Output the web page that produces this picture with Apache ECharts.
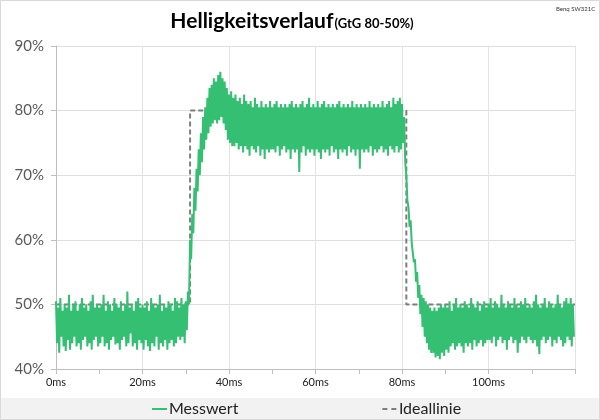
<!DOCTYPE html>
<html><head><meta charset="utf-8">
<script src="https://cdn.jsdelivr.net/npm/echarts@6/dist/echarts.min.js"></script>
<style>html,body{margin:0;padding:0;background:#fff}#c{width:600px;height:420px}</style>
</head><body><div id="c"></div>
<script>
// Messwert: upper (hi, at t) and lower (lo, at t+0.25ms) noise values, sampled every 0.5 ms (percent)
const sampleStep = 0.5;
const hi = [
50.5,49.5,51,49,50,49.5,51.5,49,50,50.5,49,50,51,49.5,50,49,50.5,51.5,49.5,50,
49.5,50,51.5,49,50.5,50,49,51,50,49.5,50.5,49,50,52,49.5,50,49,50.5,51,49.5,
50,49.5,50.5,49,51,50,49.5,50,51.5,49,50,49.5,50.5,50,49,51,50.5,49.5,51,50,
50.5,52,60,64,68,71,74,76.5,79,80.5,82,83.5,84,85,84.5,85.5,86,85,84.5,83.5,
82.5,83,82,82.5,81.5,82,81,82.5,81.5,81,81.5,80.5,82,81,80.5,81.5,80.5,81,80.5,81.5,
80.5,81,81.5,80.5,81,80.5,81,80.5,81,81.5,80.5,81,80.5,81,81.5,80.5,81,82,80.5,81,
80.5,81.5,80.5,81,81.5,80.5,81,80.5,81,80.5,81,81.5,80.5,81,80.5,81,80.5,81.5,80.5,81,
80.5,81,80.5,81,80.5,81.5,80.5,81,80.5,81,80.5,81.5,80.5,81,81.5,80.5,82,81,81.5,82,
81,79,70,65,63,59.5,57,55,53,51.5,51,50.5,50,49.5,49,49.5,49,49.5,50,49.5,
50,49.5,50.5,49,50,51,49.5,50,49.5,50.5,50,49.5,51,50,49.5,50.5,49,50,50.5,49.5,
50,51,49.5,50.5,50,49.5,51.5,50,49.5,50.5,50,49.5,51,50,49.5,50.5,50,51,49.5,50,
49.5,50.5,51.5,50,49.5,50,51,49.5,50.5,50,49.5,50,51.5,50,49.5,50.5,51,50,51,50
];
const lo = [
44,42.5,45,43.5,42.8,44.5,43,44,45,43.5,44,43,44.5,45,43.5,44,43,44.5,45,43.5,
44,45,43.5,44,43,44.5,45,43.8,44,43,44.5,45,43.5,44,45.5,43.5,44,43,44.5,44,
43,44.5,43.5,42.8,44,43.5,45,43,44,43.5,44.5,43,44,44.5,43.5,44,45,44.5,45,44,
46,50,57,61,64.5,67.5,70,72,74,75.5,76.5,77.5,78,78.5,78,78.5,79,78,77,75.5,
75,74.5,74.5,75,74,74.5,73.5,74.5,74,73,74.5,74,73.5,74.5,73,74,72.5,74,73.5,74,
74,73.5,74.5,73,74,74.5,73.5,74,72.5,74,73.5,74,70.5,73.5,74.5,73,74,73.5,74,73,
74,73.5,72.5,74,73.5,74,73,74.5,73.5,74,72.5,74,73.5,74,73,74.5,73.5,74,73,74,
71,74,73.5,74,73.5,74.5,73,74,73.5,74,74.5,73.5,74,73,74.5,74,73.5,74.5,73.5,74,
75,72,66,62,59.5,56.5,53.5,51,48.5,46.5,45,44,43,42.5,42.5,41.8,42,41.5,42.5,42,
43,42.5,43.5,44,43,43.5,44,43.5,42.5,44,43.5,44,43,44.5,43.5,44,44.5,43.5,44,44.5,
44.5,44,45,43.5,44.5,45,44,44.5,43,44.5,45,44,44.5,42.5,44,45,44.5,44,45,44.5,
44,44.5,43.5,42.3,44.5,45,44,44.5,45,43.5,44.5,44,45,44.5,43.5,44,45,44.5,43.5,45
];
// Ideallinie
const idealX = [0,31,31,81,81,120];
const idealY = [50,50,80,80,50,50];
const xTicks = ['0ms','20ms','40ms','60ms','80ms','100ms'];
const yTicks = ['40%','50%','60%','70%','80%','90%'];

const mess = [];
for (let i = 0; i < hi.length; i++) {
  mess.push([i*sampleStep, hi[i]]);
  mess.push([i*sampleStep + sampleStep/2, lo[i]]);
}
const ideal = idealX.map((x,i)=>[x, idealY[i]]);

const chart = echarts.init(document.getElementById('c'), null, {renderer:'canvas'});
chart.setOption({
  animation:false,
  backgroundColor:'#fff',
  title:{
    text:'{a|Helligkeitsverlauf}{b|(GtG 80-50%)}',
    left:287, top:6, textAlign:'center',
    textStyle:{rich:{
      a:{fontFamily:'Lato',fontWeight:'bold',fontSize:21,color:'#000'},
      b:{fontFamily:'Lato',fontWeight:'bold',fontSize:13,color:'#000',padding:[4,0,0,1]}
    }}
  },
  graphic:[
    {type:'rect',shape:{x:1,y:398,width:598,height:21},style:{fill:'#f2f2f2'},z:-10,silent:true},
    {type:'rect',shape:{x:0.5,y:0.5,width:599,height:419},style:{fill:null,stroke:'#d9d9d9',lineWidth:1},z:-9,silent:true},
    {type:'text',left:556,top:6,style:{text:'Benq SW321C',font:'6px Lato',fill:'#333'}}
  ],
  legend:{
    left:147, top:396, itemGap:144, itemWidth:15, itemHeight:2,
    textStyle:{fontFamily:'Lato',fontSize:16,color:'#222',padding:[0,0,0,-3]},
    data:[
      {name:'Messwert',icon:'path://M0,0H15V2H0Z'},
      {name:'Ideallinie',icon:'path://M0,0H5V2H0Z M9,0H14V2H9Z'}
    ]
  },
  grid:{left:56,right:25,top:46,bottom:51},
  xAxis:{
    type:'value',min:0,max:120,interval:20,
    axisLine:{lineStyle:{color:'#bfbfbf'}},
    axisTick:{show:true,length:5,lineStyle:{color:'#bfbfbf'}},
    minorTick:{show:true,splitNumber:2,length:5,lineStyle:{color:'#bfbfbf'}},
    axisLabel:{fontFamily:'Lato',fontSize:11,color:'#222',margin:8,showMaxLabel:false,
      formatter:v=>{const k=v/20; return k<xTicks.length?xTicks[k]:'';}},
    splitLine:{show:true,lineStyle:{color:'#e3e3e3'}}
  },
  yAxis:{
    type:'value',min:40,max:90,interval:10,
    axisLine:{show:true,lineStyle:{color:'#bfbfbf'}},
    axisTick:{show:true,length:5,lineStyle:{color:'#bfbfbf'}},
    axisLabel:{fontFamily:'Lato',fontSize:15,color:'#595959',margin:12,
      formatter:v=>yTicks[(v-40)/10]},
    splitLine:{lineStyle:{color:'#dedede'}}
  },
  series:[
    {name:'Ideallinie',type:'line',data:ideal,symbol:'none',z:2,
      lineStyle:{color:'#7f7f7f',width:2,type:[5,3]},itemStyle:{color:'#7f7f7f'}},
    {name:'Messwert',type:'line',data:mess,symbol:'none',z:3,
      lineStyle:{color:'#34bf72',width:2},itemStyle:{color:'#34bf72'}}
  ]
});
</script></body></html>
